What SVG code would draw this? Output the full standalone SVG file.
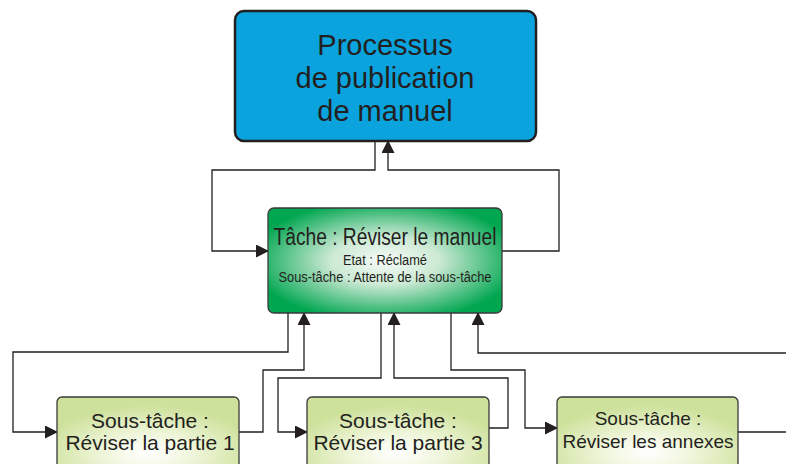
<svg xmlns="http://www.w3.org/2000/svg" width="786" height="464" viewBox="0 0 786 464">
<defs>
<radialGradient id="gTask" cx="0.5" cy="0.5" r="0.58">
<stop offset="0" stop-color="#f6fbf7"/>
<stop offset="0.4" stop-color="#cce9d4"/>
<stop offset="1" stop-color="#00a650"/>
</radialGradient>
<radialGradient id="gSub" cx="0.5" cy="0.7" r="0.6">
<stop offset="0" stop-color="#ffffff"/>
<stop offset="0.4" stop-color="#f0f6dc"/>
<stop offset="1" stop-color="#cde19a"/>
</radialGradient>
<marker id="arr" markerWidth="13" markerHeight="13" refX="12" refY="6.5" orient="auto" markerUnits="userSpaceOnUse">
<path d="M0,0 L13,6.5 L0,13 Z" fill="#231f20"/>
</marker>
<style>
.conn{fill:none;stroke:#231f20;stroke-width:1.3}
.sub rect{fill:url(#gSub);stroke:#3a3a3a;stroke-width:1.3}
.t{font-family:"Liberation Sans",Arial,sans-serif;fill:#231f20;text-anchor:middle}
</style>
</defs>
<rect width="786" height="464" fill="#ffffff"/>
<g id="connectors">
<path class="conn" d="M375,141 V170 H212 V251 H268" marker-end="url(#arr)"/>
<path class="conn" d="M502,251 H559 V170 H388 V141" marker-end="url(#arr)"/>
<path class="conn" d="M288,313 V352 H13 V432 H57" marker-end="url(#arr)"/>
<path class="conn" d="M239,432 H263 V370 H304 V313" marker-end="url(#arr)"/>
<path class="conn" d="M381,313 V378 H278 V432 H307" marker-end="url(#arr)"/>
<path class="conn" d="M489,428 H508 V378 H394 V313" marker-end="url(#arr)"/>
<path class="conn" d="M451,313 V370 H525 V428 H557" marker-end="url(#arr)"/>
<path class="conn" d="M786,353 H478 V313" marker-end="url(#arr)"/>
<path class="conn" d="M738,432 H786"/>
</g>
<g id="process">
<rect x="235" y="11" width="301" height="130" rx="9" fill="#0aa3dd" stroke="#231f20" stroke-width="2.5"/>
<text class="t" x="385" y="55" font-size="29">Processus</text>
<text class="t" x="385" y="88" font-size="29">de publication</text>
<text class="t" x="385" y="121" font-size="29">de manuel</text>
</g>
<g id="task">
<rect x="268" y="208" width="234" height="105" rx="6" fill="url(#gTask)" stroke="#3a3a3a" stroke-width="1.3"/>
<text class="t" x="385" y="245" font-size="23" textLength="223" lengthAdjust="spacingAndGlyphs">Tâche : Réviser le manuel</text>
<text class="t" x="385" y="265" font-size="14" textLength="84" lengthAdjust="spacingAndGlyphs">Etat : Réclamé</text>
<text class="t" x="385" y="282" font-size="14" textLength="213" lengthAdjust="spacingAndGlyphs">Sous-tâche : Attente de la sous-tâche</text>
</g>
<g id="sub1" class="sub">
<rect x="57" y="397" width="182" height="80" rx="5"/>
<text class="t" x="150" y="428" font-size="21">Sous-tâche :</text>
<text class="t" x="150" y="450" font-size="21">Réviser la partie 1</text>
</g>
<g id="sub3" class="sub">
<rect x="307" y="397" width="182" height="80" rx="5"/>
<text class="t" x="398" y="428" font-size="21">Sous-tâche :</text>
<text class="t" x="398" y="450" font-size="21">Réviser la partie 3</text>
</g>
<g id="subAnnexes" class="sub">
<rect x="557" y="397" width="181" height="80" rx="5"/>
<text class="t" x="648" y="425" font-size="19">Sous-tâche :</text>
<text class="t" x="648" y="448" font-size="19">Réviser les annexes</text>
</g>
</svg>
